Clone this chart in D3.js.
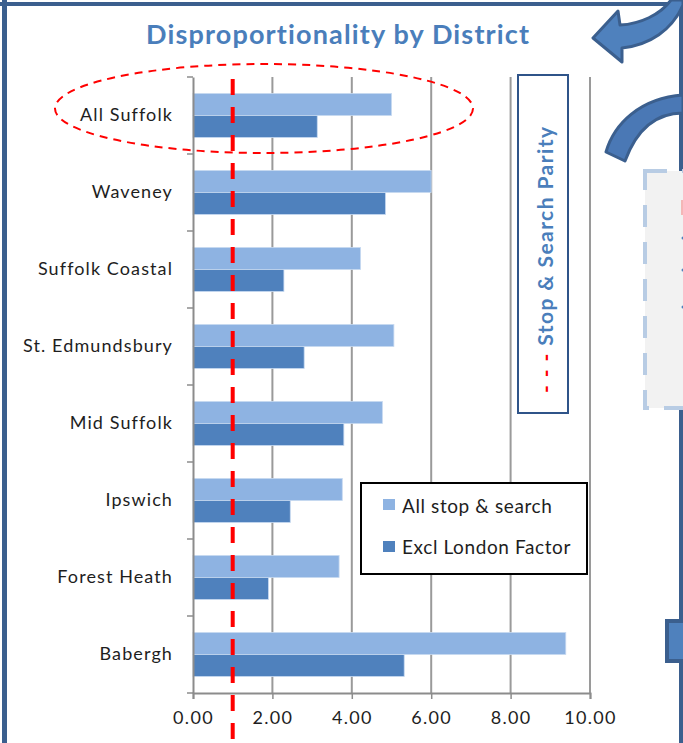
<!DOCTYPE html>
<html>
<head>
<meta charset="utf-8">
<script src="https://cdn.jsdelivr.net/npm/d3@7"></script>
<style>
  body { margin: 0; background: #fff; }
  svg { display: block; font-family: Lato, "Open Sans", sans-serif; font-variant-ligatures: none; }
</style>
</head>
<body>
<svg id="chart" width="683" height="743"></svg>
<script>
// values
const categories = ["All Suffolk", "Waveney", "Suffolk Coastal", "St. Edmundsbury", "Mid Suffolk", "Ipswich", "Forest Heath", "Babergh"];
const allStopSearch = [5.00, 6.00, 4.22, 5.06, 4.77, 3.76, 3.68, 9.39];
const exclLondon = [3.13, 4.85, 2.29, 2.80, 3.80, 2.45, 1.90, 5.32];
const seriesNames = ["All stop & search", "Excl London Factor"];
const seriesColors = ["#8EB3E2", "#4F81BD"];
const xTicks = [0, 2, 4, 6, 8, 10];
const parityValue = 1;

const svg = d3.select("#chart");
const frameBlue = "#3B5F8E";

// page frame
svg.append("rect").attr("x", 2).attr("y", 0).attr("width", 5).attr("height", 743).attr("fill", frameBlue);
svg.append("rect").attr("x", 0).attr("y", 2).attr("width", 683).attr("height", 4).attr("fill", frameBlue);
svg.append("rect").attr("x", 679).attr("y", 0).attr("width", 4).attr("height", 743).attr("fill", frameBlue);

// title
svg.append("text")
   .attr("x", 146)
   .attr("y", 44)
   .attr("font-weight", "bold")
   .attr("font-size", 27)
   .attr("fill", "#4A7EBB")
   .attr("textLength", 383)
   .attr("lengthAdjust", "spacing")
   .text("Disproportionality by District");

// scales
const x = d3.scaleLinear().domain([0, 10]).range([193, 590]);
const y = d3.scaleBand().domain(categories).range([77, 693]).padding(0);
const ySub = d3.scaleBand().domain(seriesNames).range([0, y.bandwidth()]).paddingInner(0).paddingOuter(0.75);

// gridlines
svg.append("g")
   .selectAll("line")
   .data(xTicks.filter(d => d > 0))
   .enter()
   .append("line")
   .attr("x1", d => x(d)).attr("x2", d => x(d))
   .attr("y1", 77).attr("y2", 693)
   .attr("stroke", "#9A9A9A")
   .attr("stroke-width", 2);

// bars
const rows = categories.map((c, i) => ({ cat: c, vals: [allStopSearch[i], exclLondon[i]] }));
const groups = svg.append("g")
   .selectAll("g")
   .data(rows)
   .enter()
   .append("g")
   .attr("transform", d => `translate(0,${y(d.cat)})`);

groups.selectAll("rect")
   .data(d => d.vals.map((v, j) => ({ key: seriesNames[j], value: v, color: seriesColors[j] })))
   .enter()
   .append("rect")
   .attr("x", x(0))
   .attr("y", d => ySub(d.key))
   .attr("width", d => x(d.value) - x(0))
   .attr("height", ySub.bandwidth())
   .attr("fill", d => d.color)
   .attr("stroke", "#C6D9F1")
   .attr("stroke-width", 0.8);

// y axis
const yAxis = svg.append("g")
   .attr("transform", `translate(${x(0)},0)`)
   .call(d3.axisLeft(y).tickSize(0).tickPadding(20));
yAxis.select(".domain").attr("stroke", "#8C8C8C").attr("stroke-width", 2);
yAxis.selectAll("text")
     .attr("font-size", 18)
     .attr("fill", "#1E1E1E")
     .style("font-family", "Lato")
     .style("letter-spacing", "1.1px");

const bounds = d3.range(categories.length + 1).map(i => 77 + i * y.step());
svg.append("g")
   .selectAll("line")
   .data(bounds)
   .enter()
   .append("line")
   .attr("x1", x(0) - 6).attr("x2", x(0))
   .attr("y1", d => d).attr("y2", d => d)
   .attr("stroke", "#8C8C8C")
   .attr("stroke-width", 1.5);

// x axis
const xAxis = svg.append("g")
   .attr("transform", "translate(0,693)")
   .call(d3.axisBottom(x).tickValues(xTicks).tickFormat(d3.format(".2f")).tickSize(6).tickPadding(12));
xAxis.select(".domain").attr("stroke", "#8C8C8C").attr("stroke-width", 2);
xAxis.selectAll("line").attr("stroke", "#8C8C8C").attr("stroke-width", 1.5);
xAxis.selectAll("text")
     .attr("font-size", 18)
     .attr("fill", "#1E1E1E")
     .style("font-family", "Lato")
     .style("letter-spacing", "1.3px");

// parity line
svg.append("line")
   .attr("x1", x(parityValue)).attr("x2", x(parityValue))
   .attr("y1", 79).attr("y2", 743)
   .attr("stroke", "#FF0000")
   .attr("stroke-width", 4)
   .attr("stroke-dasharray", "16,12");

// ellipse around All Suffolk
svg.append("ellipse")
   .attr("cx", 264).attr("cy", 108.5)
   .attr("rx", 209).attr("ry", 44.5)
   .attr("fill", "none")
   .attr("stroke", "#FF0000")
   .attr("stroke-width", 2)
   .attr("stroke-dasharray", "8,6");

// parity label box
svg.append("rect")
   .attr("x", 518).attr("y", 75)
   .attr("width", 50).attr("height", 338)
   .attr("fill", "#fff")
   .attr("stroke", "#2F5489")
   .attr("stroke-width", 2);

const parityText = svg.append("text")
   .attr("transform", "translate(553,393) rotate(-90)")
   .attr("font-weight", "bold")
   .attr("font-size", 21)
   .attr("fill", "#4A7EBB")
   .attr("textLength", 266)
   .attr("lengthAdjust", "spacing");
parityText.append("tspan").attr("fill", "#FF0000").text("- - - ");
parityText.append("tspan").text("Stop & Search Parity");

// legend
const legend = svg.append("g");
legend.append("rect")
   .attr("x", 361).attr("y", 483)
   .attr("width", 226).attr("height", 91)
   .attr("fill", "#fff")
   .attr("stroke", "#000")
   .attr("stroke-width", 2);
seriesNames.forEach((name, i) => {
  legend.append("rect")
     .attr("x", 383).attr("y", 499 + i * 42)
     .attr("width", 12).attr("height", 11)
     .attr("fill", seriesColors[i]);
  legend.append("text")
     .attr("x", 402).attr("y", 513 + i * 41)
     .attr("font-size", 19)
     .attr("fill", "#1E1E1E")
     .style("letter-spacing", "0.6px")
     .text(name);
});

// decorations on the right edge
const deco = svg.append("g").attr("stroke", frameBlue).attr("stroke-width", 3).attr("stroke-linejoin", "round");
deco.append("path")
   .attr("d", "M593,38 L618,11 L620,25 C640,24 660,15 671,0 L683,0 L683,5 C672,30 650,45 622,48 L622,62 Z")
   .attr("fill", "#4F81BD");
deco.append("path")
   .attr("d", "M606,152 C614,124 640,98 683,95 L683,113 C655,113 636,131 625,161 Z")
   .attr("fill", "#4A78B5");

svg.append("rect")
   .attr("x", 645).attr("y", 171)
   .attr("width", 50).attr("height", 237)
   .attr("fill", "#F2F2F2")
   .attr("stroke", "#B8CCE4")
   .attr("stroke-width", 4)
   .attr("stroke-dasharray", "22,15");
svg.append("rect").attr("x", 681).attr("y", 200).attr("width", 2).attr("height", 15).attr("fill", "#F4B6B6");
[238, 270, 307].forEach(v => {
  svg.append("circle").attr("cx", 683).attr("cy", v).attr("r", 1.5).attr("fill", "#4F81BD");
});

svg.append("rect")
   .attr("x", 667).attr("y", 621)
   .attr("width", 20).attr("height", 40)
   .attr("fill", "#4F81BD")
   .attr("stroke", frameBlue)
   .attr("stroke-width", 4);
</script>
</body>
</html>
